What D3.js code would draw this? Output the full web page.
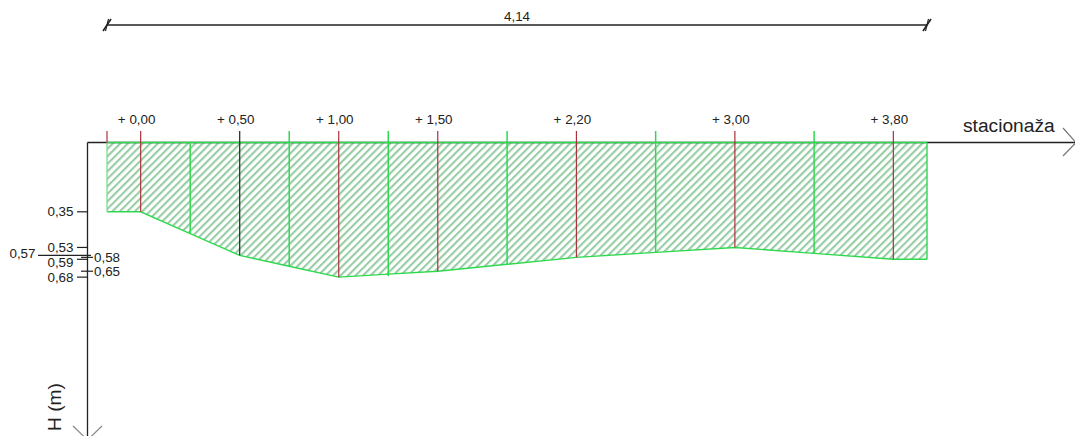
<!DOCTYPE html>
<html><head><meta charset="utf-8">
<script src="https://cdn.jsdelivr.net/npm/d3@7"></script>
<style>html,body{margin:0;padding:0;background:#fff;overflow:hidden}svg{display:block}text{font-family:"Liberation Sans",Arial,sans-serif;fill:#222}</style>
</head><body><svg id="c" width="1075" height="436"></svg>
<script>
const profileX=[-0.17,0,0.25,0.5,0.75,1,1.25,1.5,1.85,2.2,2.6,3,3.4,3.8,3.97];
const profileH=[0.35,0.35,0.46,0.57,0.625,0.68,0.665,0.65,0.615,0.58,0.555,0.53,0.56,0.59,0.59];
const stations=[0,0.5,1,1.5,2.2,3,3.8];
const stationLabels=["+ 0,00","+ 0,50","+ 1,00","+ 1,50","+ 2,20","+ 3,00","+ 3,80"];
const stationColors=["#a8323a","#222222","#a8323a","#a8323a","#a8323a","#a8323a","#a8323a"];
const dividers=[0.25,0.75,1.25,1.85,2.6,3.4];
const levelsLeft=[0.35,0.53,0.59,0.68];
const levelsRight=[0.58,0.65];
const levelFar=0.57;
const width="4,14";

const svg=d3.select("#c");
const x=d3.scaleLinear().domain([-0.17,3.97]).range([107,927]);
const y=d3.scaleLinear().domain([0,1]).range([142.5,340.5]);
const GREEN="#2fd94f",AX="#222";
const depthAt=d3.scaleLinear().domain(profileX).range(profileH);
const FS=13.4;

const defs=svg.append("defs");
const pat=defs.append("pattern").attr("id","h").attr("width",5.3).attr("height",5.3)
  .attr("patternUnits","userSpaceOnUse").attr("patternTransform","rotate(45)");
pat.append("rect").attr("width",2.1).attr("height",5.3).attr("fill","#97cda4");

const pts=profileX.map((d,i)=>[d,profileH[i]]);
const area=d3.area().x(d=>x(d[0])).y0(y(0)).y1(d=>y(d[1]));
svg.append("path").datum(pts).attr("d",area).attr("fill","url(#h)");

function ln(a,b,c,d,col,w){return svg.append("line").attr("x1",a).attr("y1",b).attr("x2",c).attr("y2",d).attr("stroke",col).attr("stroke-width",w||1);}

// axes
ln(87.5,142.5,1076,142.5,AX,1.3);
ln(87.5,142.5,87.5,436,AX,1.3);
ln(1063,128,1076,142.5,"#777",1.2);ln(1063,156,1076,142.5,"#777",1.2);
ln(73,426,87.5,440,"#888",1.2);ln(102,426,87.5,440,"#888",1.2);

// outline
svg.append("path").datum(pts).attr("fill","none").attr("stroke",GREEN).attr("stroke-width",1.4)
  .attr("d",d3.line().x(d=>x(d[0])).y(d=>y(d[1])));
ln(x(-0.17),142.5,x(3.97),142.5,GREEN,1.5);
ln(x(-0.17),142.5,x(-0.17),y(0.35),"#7fd98f",1.3);
ln(x(3.97),142.5,x(3.97),y(0.59),GREEN,1.4);
ln(x(-0.17),131,x(-0.17),142.5,"#a8323a",1.2);

// dividers
dividers.forEach((d,i)=>{
  const top=i===0?142.5:131;
  const extra=d===1.25?0.01:0;
  ln(x(d),top,x(d),y(depthAt(d)+extra),GREEN,1.5);
});

// stations
stations.forEach((d,i)=>{
  ln(x(d),131,x(d),y(depthAt(d)),stationColors[i],1.2);
  svg.append("text").attr("x",x(d)-4).attr("y",124).attr("text-anchor","middle").attr("font-size",FS).text(stationLabels[i]);
});

// level ticks
const fmt=v=>v.toFixed(2).replace(".",",");
levelsLeft.forEach(v=>{
  ln(77,y(v),87.5,y(v),AX,1.2);
  svg.append("text").attr("x",73.5).attr("y",y(v)+(v===0.59?8:4.5)).attr("text-anchor","end").attr("font-size",FS).text(fmt(v));
});
levelsRight.forEach(v=>{
  ln(81,y(v),93,y(v),AX,1.2);
  svg.append("text").attr("x",94).attr("y",y(v)+4.5).attr("font-size",FS).text(fmt(v));
});
ln(38,y(levelFar),91,y(levelFar),AX,1.2);
svg.append("text").attr("x",35.5).attr("y",y(levelFar)+3).attr("text-anchor","end").attr("font-size",FS).text(fmt(levelFar));

// axis titles
svg.append("text").attr("x",963).attr("y",132).attr("font-size",19.2).text("stacionaža");
svg.append("text").attr("transform","translate(61,431) rotate(-90)").attr("font-size",19.2).text("H (m)");

// dimension
const dimY=25;
ln(x(-0.17),dimY,x(3.97),dimY,AX,1.3);
[x(-0.17),x(3.97)].forEach(px=>{
  ln(px-4,dimY+6,px+4,dimY-6,AX,1.6);
  ln(px-1.5,dimY+6,px+1.5,dimY-6,AX,1.2);
});
svg.append("text").attr("x",517).attr("y",21).attr("text-anchor","middle").attr("font-size",FS).text(width);
</script></body></html>
